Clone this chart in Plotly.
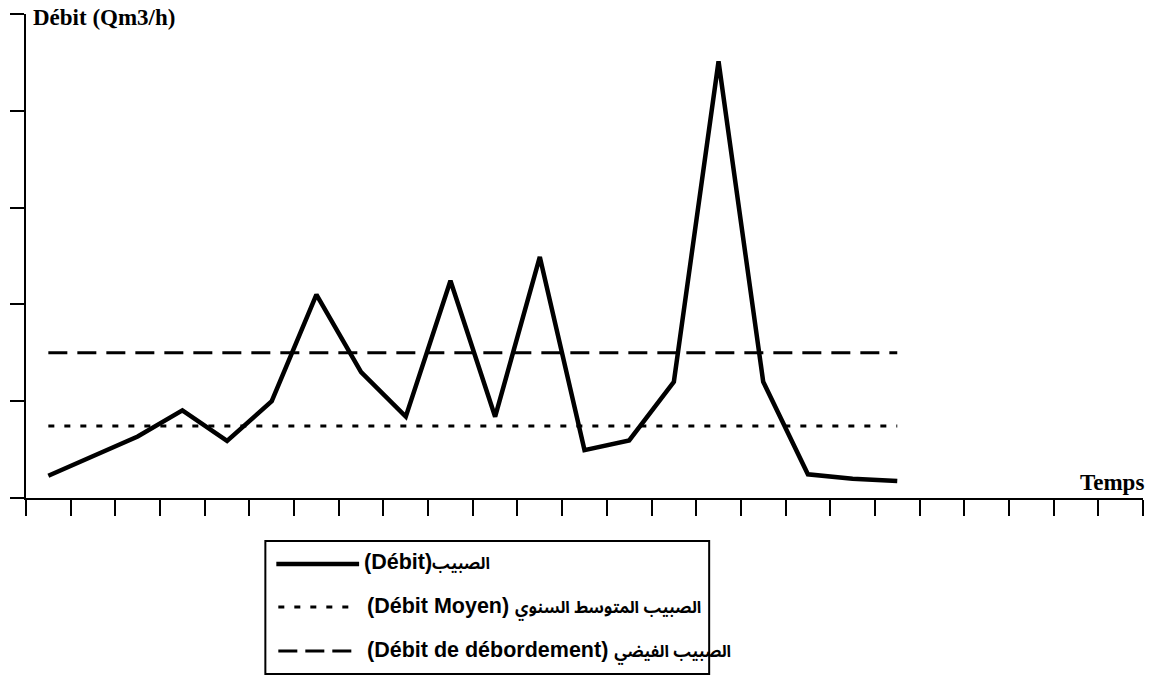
import plotly.graph_objects as go

# ---- data ----
time_idx = [0.5, 1.5, 2.5, 3.5, 4.5, 5.5, 6.5, 7.5, 8.5, 9.5,
            10.5, 11.5, 12.5, 13.5, 14.5, 15.5, 16.5, 17.5, 18.5, 19.5]
debit = [0.23, 0.43, 0.635, 0.905, 0.59, 1.0, 2.10, 1.30, 0.84, 2.245,
         0.84, 2.49, 0.495, 0.595, 1.20, 4.51, 1.20, 0.245, 0.20, 0.175]
debit_moyen = 0.745
debit_debordement = 1.50
ref_x = [0.5, 19.5]
x_ticks = list(range(26))
y_ticks = [0, 1, 2, 3, 4, 5]

AR = ('<span style="font-family:\'Noto Sans Arabic\',\'Noto Naskh Arabic\','
      '\'DejaVu Sans Condensed\',\'DejaVu Sans\';font-size:16.5px">{}</span>')
label_debit = "<b>(Débit)" + AR.format("الصبيب") + "</b>"
label_moyen = "<b>(Débit Moyen) " + AR.format("الصبيب المتوسط السنوي") + "</b>"
label_deb = "<b>(Débit de débordement) " + AR.format("الصبيب الفيضي") + "</b>"
y_title = "<b>Débit (Qm3/h)</b>"
x_title = "<b>Temps</b>"

W, H = 1157, 677
L, R, T, B = 23, 1143, 14, 498


def px(x):
    return (x - L) / (R - L)


def py(y):
    return (B - y) / (B - T)


fig = go.Figure()
fig.add_trace(go.Scatter(x=time_idx, y=debit, mode="lines",
                         line=dict(color="black", width=4.5), showlegend=False,
                         cliponaxis=False))
fig.add_trace(go.Scatter(x=ref_x, y=[debit_moyen] * 2, mode="lines",
                         line=dict(color="black", width=3, dash="6px,10px"),
                         showlegend=False))
fig.add_trace(go.Scatter(x=ref_x, y=[debit_debordement] * 2, mode="lines",
                         line=dict(color="black", width=3, dash="19px,10px"),
                         showlegend=False))

shapes = [
    dict(type="rect", xref="paper", yref="paper", x0=px(263), x1=px(708),
         y0=py(541), y1=py(674), line=dict(color="black", width=2)),
    dict(type="line", xref="paper", yref="paper", x0=px(274), x1=px(357),
         y0=py(564), y1=py(564), line=dict(color="black", width=4.5)),
    dict(type="line", xref="paper", yref="paper", x0=px(276), x1=px(349),
         y0=py(607), y1=py(607), line=dict(color="black", width=3, dash="6px,10px")),
    dict(type="line", xref="paper", yref="paper", x0=px(276), x1=px(350),
         y0=py(651), y1=py(651), line=dict(color="black", width=3, dash="19px,8px")),
]

leg_font = dict(family="Arial, Liberation Sans, DejaVu Sans", size=21.5, color="black")
annotations = [
    dict(text=label_debit, xref="paper", yref="paper", x=px(360), y=py(564),
         xanchor="left", yanchor="middle", showarrow=False, font=leg_font),
    dict(text=label_moyen, xref="paper", yref="paper", x=px(363), y=py(607),
         xanchor="left", yanchor="middle", showarrow=False, font=leg_font),
    dict(text=label_deb, xref="paper", yref="paper", x=px(363), y=py(651),
         xanchor="left", yanchor="middle", showarrow=False, font=leg_font),
    dict(text=y_title, xref="paper", yref="paper", x=px(28), y=py(17),
         xanchor="left", yanchor="middle", showarrow=False,
         font=dict(family="Times New Roman, Liberation Serif", size=23, color="black")),
    dict(text=x_title, xref="paper", yref="paper", x=px(1146), y=py(482),
         xanchor="right", yanchor="middle", showarrow=False,
         font=dict(family="Times New Roman, Liberation Serif", size=23, color="black")),
]

fig.update_layout(
    width=W, height=H,
    margin=dict(l=L, r=W - R, t=T, b=H - B, pad=0),
    paper_bgcolor="white", plot_bgcolor="white",
    shapes=shapes, annotations=annotations, showlegend=False,
    xaxis=dict(range=[0, 25], tickvals=x_ticks, showticklabels=False,
               ticks="outside", ticklen=16, tickwidth=2, tickcolor="black",
               showline=True, linewidth=2, linecolor="black",
               showgrid=False, zeroline=False),
    yaxis=dict(range=[0, 5], tickvals=y_ticks, showticklabels=False,
               ticks="outside", ticklen=14, tickwidth=2, tickcolor="black",
               showline=True, linewidth=2, linecolor="black",
               showgrid=False, zeroline=False),
)

fig.write_html("out.html", config={"displayModeBar": False},
               post_script="document.body.style.margin='0';document.body.style.overflow='hidden';")
